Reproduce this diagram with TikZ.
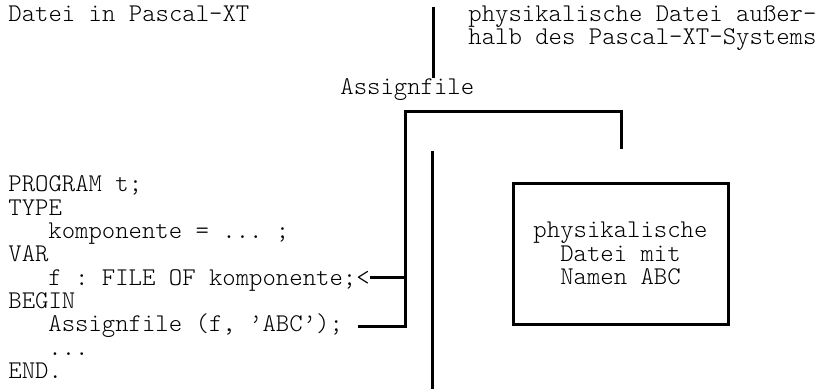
\documentclass[tikz,border=0pt]{standalone}
\usepackage{fontspec}
\setmonofont{Latin Modern Mono Light}
\begin{document}
\begin{tikzpicture}[x=0.5pt,y=-0.5pt,
  txt/.style={font=\ttfamily\fontsize{12.75}{13.3}\selectfont, inner sep=0pt, anchor=base west},
  ctxt/.style={txt, anchor=base},
  ln/.style={line width=1.5pt}]
\useasboundingbox (0,0) rectangle (816,389);
% headings
\node[txt] (title) at (8,22) {Datei in Pascal-XT};
\node[txt] (r1) at (468,22) {physikalische Datei außer-};
\node[txt] (r2) at (468,45) {halb des Pascal-XT-Systems};
\node[txt] (assign) at (340,95) {Assignfile};
% program code
\node[txt] (l1) at (8,192) {PROGRAM t;};
\node[txt] (l2) at (8,215.3) {TYPE};
\node[txt] (l3) at (48,238.6) {komponente = ... ;};
\node[txt] (l4) at (8,261.9) {VAR};
\node[txt] (l5) at (48,285.2) {f : FILE OF komponente;<};
\node[txt] (l6) at (8,308.5) {BEGIN};
\node[txt] (l7) at (48,331.8) {Assignfile (f, ’ABC’);};
\node[txt] (l8) at (48,355.1) {...};
\node[txt] (l9) at (8,378.4) {END.};
% physical file box
\node[draw, ln, minimum width=107.5pt, minimum height=70.5pt, inner sep=0pt] (box) at (620.5,254.5) {};
\node[ctxt] (b1) at (620.5,238) {physikalische};
\node[ctxt] (b2) at (620.5,261.5) {Datei mit};
\node[ctxt] (b3) at (620.5,285) {Namen ABC};
% separators
\coordinate (u1) at (433,7);
\coordinate (u2) at (433,78);
\draw[ln] (u1) -- (u2);
\coordinate (v1) at (432,151);
\coordinate (v2) at (432,389);
\draw[ln] (v1) -- (v2);
% Assignfile bracket
\coordinate (a1) at (358,327);
\coordinate (a2) at (405,327);
\coordinate (a3) at (405,112);
\coordinate (a4) at (621,112);
\coordinate (a5) at (621,149);
\coordinate (f1) at (405,278);
\draw[ln] (a1) -- (a2) -- (a3) -- (a4) -- (a5);
\draw[ln] (l5.east |- f1) -- (f1);
\end{tikzpicture}
\end{document}
